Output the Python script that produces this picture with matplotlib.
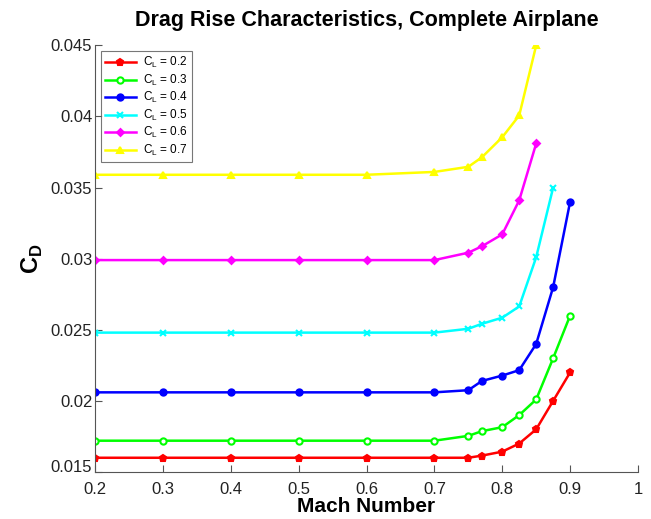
"""
Drag rise characteristics of the complete airplane: CD vs Mach for several CL.
"""

import matplotlib

matplotlib.use("Agg")
import matplotlib.pyplot as plt
import matplotlib.transforms as mtransforms

plt.rcParams["font.family"] = ["Liberation Sans", "DejaVu Sans"]

mach = [0.2, 0.3, 0.4, 0.5, 0.6, 0.7, 0.75, 0.77, 0.8, 0.825, 0.85, 0.875, 0.9]

cd_02 = [0.0160, 0.0160, 0.0160, 0.0160, 0.0160, 0.0160, 0.0160, 0.01615,
         0.01643, 0.0170, 0.0180, 0.0200, 0.0220]
cd_03 = [0.0172, 0.0172, 0.0172, 0.0172, 0.0172, 0.0172, 0.01754, 0.01787,
         0.01815, 0.0190, 0.0201, 0.0230, 0.0260]
cd_04 = [0.0206, 0.0206, 0.0206, 0.0206, 0.0206, 0.0206, 0.02075, 0.0214,
         0.02178, 0.02216, 0.0240, 0.0280, 0.0340]
cd_05 = [0.0248, 0.0248, 0.0248, 0.0248, 0.0248, 0.0248, 0.02507, 0.02542,
         0.02585, 0.02664, 0.0301, 0.0350]
cd_06 = [0.0299, 0.0299, 0.0299, 0.0299, 0.0299, 0.0299, 0.03042, 0.03087,
         0.03171, 0.0341, 0.0381]
cd_07 = [0.0359, 0.0359, 0.0359, 0.0359, 0.0359, 0.0361, 0.03646, 0.03713,
         0.03854, 0.04007, 0.0450]

series = [
    ("0.2", cd_02, "#ff0000", "p", True),
    ("0.3", cd_03, "#00ff00", "o", False),
    ("0.4", cd_04, "#0000ff", "o", True),
    ("0.5", cd_05, "#00ffff", "x", True),
    ("0.6", cd_06, "#ff00ff", "D", True),
    ("0.7", cd_07, "#ffff00", "^", True),
]


def main():
    fig = plt.figure(figsize=(6.51, 5.19), dpi=100)
    ax = fig.add_axes([0.146, 0.0906, 0.834, 0.822])

    for cl, cd, color, marker, filled in series:
        ms = {"p": 5, "o": 4.5, "x": 4, "D": 3.5, "^": 4.5}[marker]
        ax.plot(
            mach[: len(cd)],
            cd,
            color=color,
            linewidth=1.8,
            marker=marker,
            markersize=ms,
            markeredgewidth=1.5,
            markerfacecolor=color if filled else "white",
            markeredgecolor=color,
            label=r"C$_\mathregular{L}$ = " + cl,
        )

    ax.set_xlim(0.2, 1.0)
    ax.set_ylim(0.015, 0.045)
    ax.set_xticks([0.2, 0.3, 0.4, 0.5, 0.6, 0.7, 0.8, 0.9, 1.0])
    ax.set_xticklabels(["0.2", "0.3", "0.4", "0.5", "0.6", "0.7", "0.8", "0.9", "1"])
    ax.set_yticks([0.015, 0.02, 0.025, 0.03, 0.035, 0.04, 0.045])
    ax.set_yticklabels(["0.015", "0.02", "0.025", "0.03", "0.035", "0.04", "0.045"])

    ax.spines["top"].set_visible(False)
    ax.spines["right"].set_visible(False)
    for side in ("left", "bottom"):
        ax.spines[side].set_color("#555555")
    ax.tick_params(direction="in", length=5, color="#555555", labelsize=12,
                   labelcolor="#222222")
    ax.tick_params(axis="x", pad=7)
    ax.tick_params(axis="y", pad=2)

    # lift the lowest y label a little, as in the original
    lowest = ax.get_yticklabels()[0]
    lowest.set_transform(lowest.get_transform()
                         + mtransforms.ScaledTranslation(0, 6 / 100, fig.dpi_scale_trans))

    ax.set_title("Drag Rise Characteristics, Complete Airplane",
                 fontsize=15.5, fontweight="bold", pad=14)
    ax.set_xlabel("Mach Number", fontsize=15, fontweight="bold", labelpad=0)
    ax.set_ylabel(r"C$_\mathregular{D}$", fontsize=17, fontweight="bold", labelpad=4)

    leg = ax.legend(loc="upper left", bbox_to_anchor=(0.0, 1.0), fontsize=8.5,
                    frameon=True, fancybox=False, handlelength=2.6,
                    labelspacing=0.2, borderpad=0.35, handletextpad=0.6)
    leg.get_frame().set_edgecolor("#555555")
    leg.get_frame().set_linewidth(0.8)

    fig.savefig("out.png", dpi=100)
    plt.close(fig)


if __name__ == "__main__":
    main()
